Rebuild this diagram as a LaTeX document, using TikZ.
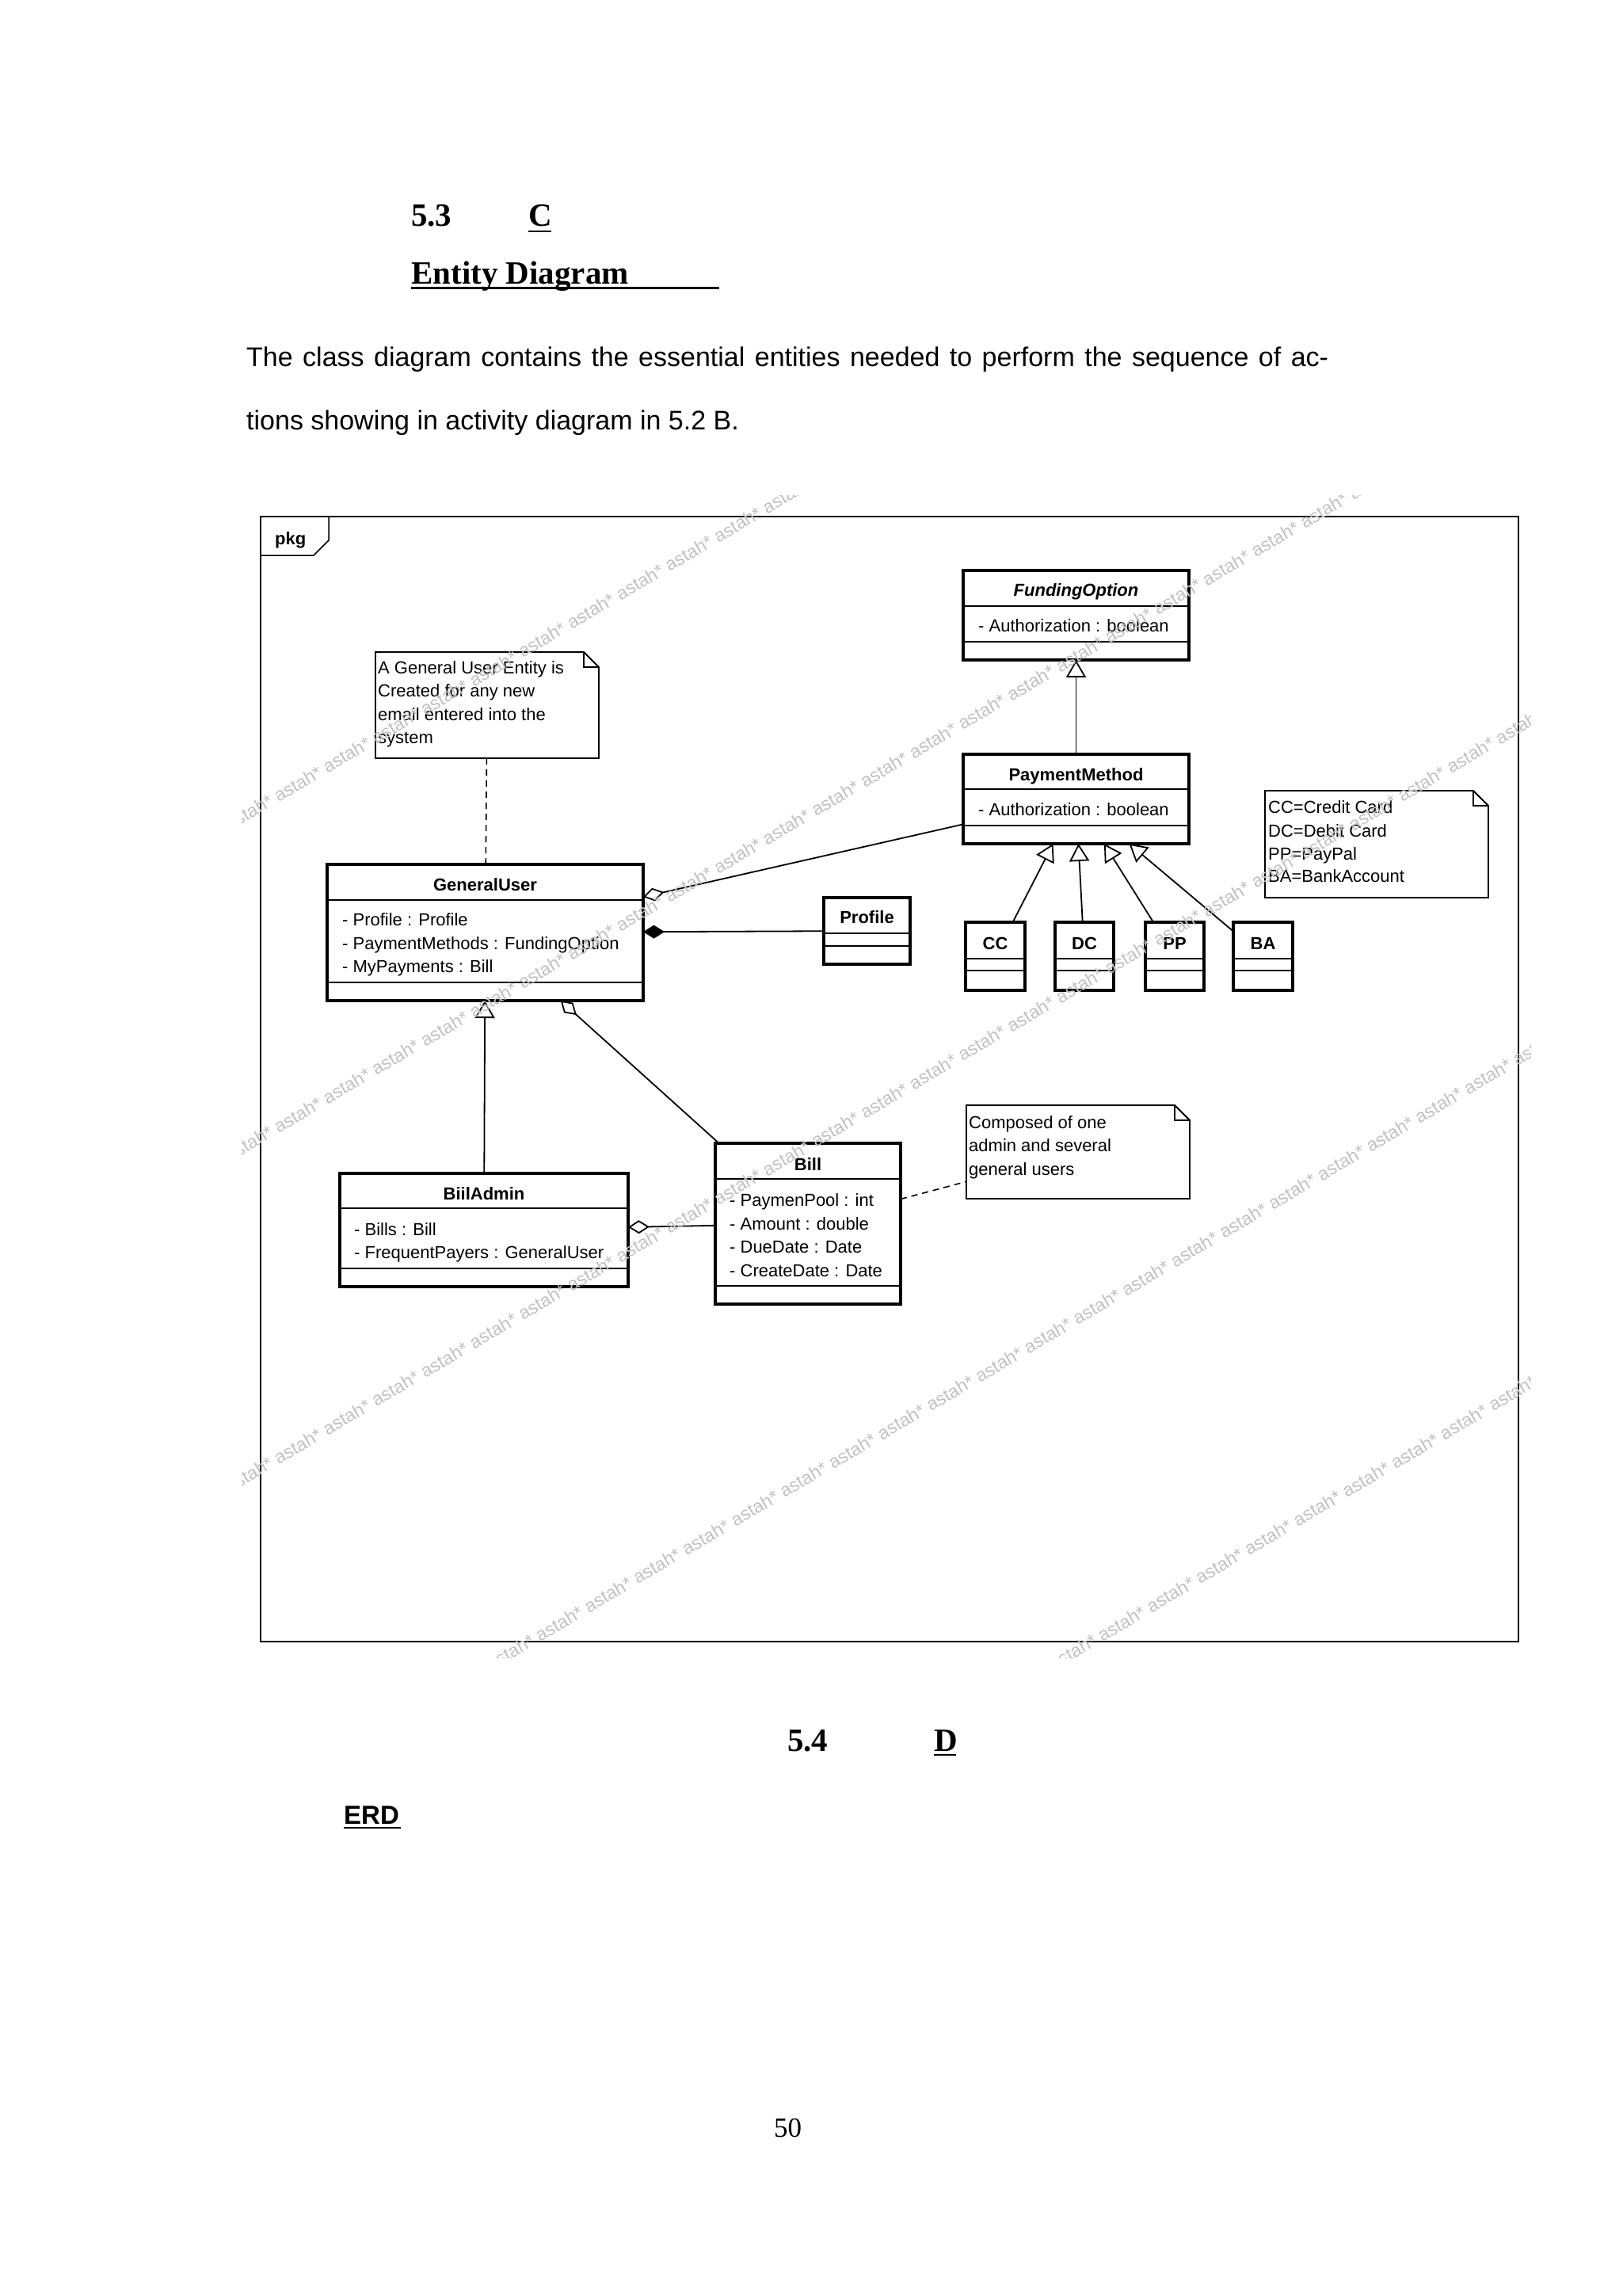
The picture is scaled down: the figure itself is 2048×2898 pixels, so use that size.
\documentclass[tikz,border=0pt]{standalone}
\usepackage{fontspec}
\setmainfont{Liberation Serif}
\setsansfont{Liberation Sans}
\usetikzlibrary{arrows.meta,calc}
\newcommand\wmrep[1]{\foreach \i in {1,...,#1}{astah* }}
\begin{document}
\begin{tikzpicture}[x=1pt,y=-1pt,
  cls/.style={draw, line width=3.5pt, inner sep=0pt, outer sep=0pt},
  notebox/.style={inner sep=0pt, outer sep=0pt},
  noteline/.style={line width=1.8pt, line join=miter},
  div/.style={line width=1.5pt},
  lbl/.style={inner sep=0pt, anchor=base west, font=\fontsize{22}{26}\selectfont\sffamily},
  ttl/.style={inner sep=0pt, anchor=base, font=\fontsize{22}{26}\selectfont\sffamily\bfseries},
  conn/.style={line width=1.8pt},
  gen/.style={conn, -{Triangle[open, length=22pt, width=25pt]}},
  agg/.style={conn, {Diamond[open, length=27pt, width=17pt]}-},
  comp/.style={conn, {Diamond[length=27pt, width=17pt]}-},
  dep/.style={line width=1.6pt, dash pattern=on 8pt off 6pt},
  head/.style={inner sep=0pt, anchor=base west, font=\fontsize{41}{48}\selectfont\rmfamily\bfseries},
  body/.style={inner sep=0pt, anchor=base west, font=\fontsize{34}{40}\selectfont\sffamily},
  wm/.style={inner sep=0pt, anchor=base west, text=black!24, font=\fontsize{23}{26}\selectfont\sffamily}
]
\useasboundingbox (0,0) rectangle (2048,2898);
\fill[white] (0,0) rectangle (2048,2898);

% ---------- page text ----------
\node[head] (h53) at (519,285) {5.3};
\node[head] (hC) at (667,285) {C};
\draw[line width=2.5pt] (667,292) -- (696,292);
\node[head] (hED) at (519,358) {Entity Diagram};
\draw[line width=3pt] (519,363) -- (908,363);
\node[body] (b1) at (311,462) {\makebox[1366pt][s]{The class diagram contains the essential entities needed to perform the sequence of ac-}};
\node[body] (b2) at (311,542) {tions showing in activity diagram in 5.2 B.};

\node[head] (h54) at (994,2210) {5.4};
\node[head] (hD) at (1179,2210) {D};
\draw[line width=2.5pt] (1179,2215) -- (1207,2215);
\node[inner sep=0pt, anchor=base west, font=\fontsize{33}{40}\selectfont\sffamily\bfseries] (erd) at (434,2302) {ERD};
\draw[line width=2.5pt] (434,2307) -- (506,2307);
\node[inner sep=0pt, anchor=base west, font=\fontsize{35}{40}\selectfont\rmfamily] (pno) at (977,2697) {50};

% ---------- frame ----------
\draw[line width=1.5pt] (329,652) rectangle (1917,2072);
\draw[line width=1.5pt] (329,701) -- (396,701) -- (415,682) -- (415,652);
\node[inner sep=0pt, anchor=base west, font=\fontsize{22}{26}\selectfont\sffamily\bfseries] (pkg) at (347,687) {pkg};

% ---------- classes ----------
\node[cls, minimum width=399pt, minimum height=172pt] (GU) at (612.5,1177) {};
\draw[div] (413,1136) -- (812,1136);
\draw[div] (413,1240) -- (812,1240);
\node[ttl] (GUt) at (612.5,1124) {GeneralUser};
\node[lbl] (GUa1) at (432,1168) {- Profile : Profile};
\node[lbl] (GUa2) at (432,1198) {- PaymentMethods : FundingOption};
\node[lbl] (GUa3) at (432,1227) {- MyPayments : Bill};

\node[cls, minimum width=109pt, minimum height=84pt] (PR) at (1094.5,1175) {};
\draw[div] (1040,1178) -- (1149,1178);
\draw[div] (1040,1194) -- (1149,1194);
\node[ttl] (PRt) at (1094.5,1165) {Profile};

\node[cls, minimum width=285pt, minimum height=113pt] (FO) at (1358.5,776.5) {};
\draw[div] (1216,765) -- (1501,765);
\draw[div] (1216,810) -- (1501,810);
\node[ttl, font=\fontsize{22}{26}\selectfont\sffamily\bfseries\itshape] (FOt) at (1358.5,752) {FundingOption};
\node[lbl] (FOa) at (1235,797) {- Authorization : boolean};

\node[cls, minimum width=285pt, minimum height=113pt] (PM) at (1358.5,1008.5) {};
\draw[div] (1216,996) -- (1501,996);
\draw[div] (1216,1042) -- (1501,1042);
\node[ttl] (PMt) at (1358.5,985) {PaymentMethod};
\node[lbl] (PMa) at (1235,1029) {- Authorization : boolean};

\foreach \n/\cx/\w in {CC/1256.5/75, DC/1369/74, PP/1483/74, BA/1594.5/75}{
  \node[cls, minimum width=\w pt, minimum height=86pt] (\n) at (\cx,1207) {};
  \draw[div] ($(\n.west)+(0,3)$) -- ($(\n.east)+(0,3)$);
  \draw[div] ($(\n.west)+(0,18)$) -- ($(\n.east)+(0,18)$);
  \node[ttl] (\n t) at (\cx,1198) {\n};
}

\node[cls, minimum width=364pt, minimum height=143pt] (BAd) at (611,1552.5) {};
\draw[div] (429,1525) -- (793,1525);
\draw[div] (429,1601) -- (793,1601);
\node[ttl] (BAdt) at (611,1514) {BiilAdmin};
\node[lbl] (BAda1) at (447,1559) {- Bills : Bill};
\node[lbl] (BAda2) at (447,1588) {- FrequentPayers : GeneralUser};

\node[cls, minimum width=234pt, minimum height=203pt] (BL) at (1020,1544.5) {};
\draw[div] (903,1488) -- (1137,1488);
\draw[div] (903,1623) -- (1137,1623);
\node[ttl] (BLt) at (1020,1477) {Bill};
\node[lbl] (BLa1) at (921,1522) {- PaymenPool : int};
\node[lbl] (BLa2) at (921,1552) {- Amount : double};
\node[lbl] (BLa3) at (921,1581) {- DueDate : Date};
\node[lbl] (BLa4) at (921,1611) {- CreateDate : Date};

% ---------- notes ----------
\node[notebox, minimum width=282pt, minimum height=134pt] (N1) at (615,890) {};
\node[notebox, minimum width=282pt, minimum height=135pt] (N2) at (1738,1065.5) {};
\node[notebox, minimum width=282pt, minimum height=118pt] (N3) at (1361,1454) {};
\foreach \n in {N1,N2,N3}{
  \draw[noteline] (\n.north west) -- ($(\n.north east)+(-19,0)$) -- ($(\n.north east)+(0,19)$) -- (\n.south east) -- (\n.south west) -- cycle;
  \draw[noteline] ($(\n.north east)+(-19,0)$) -- ($(\n.north east)+(-19,19)$) -- ($(\n.north east)+(0,19)$);
}
\node[lbl] (N1a) at (477,850) {A General User Entity is};
\node[lbl] (N1b) at (477,879) {Created for any new};
\node[lbl] (N1c) at (477,909) {email entered into the};
\node[lbl] (N1d) at (477,938) {system};
\node[lbl] (N2a) at (1601,1026) {CC=Credit Card};
\node[lbl] (N2b) at (1601,1056) {DC=Debit Card};
\node[lbl] (N2c) at (1601,1085) {PP=PayPal};
\node[lbl] (N2d) at (1601,1113) {BA=BankAccount};
\node[lbl] (N3a) at (1223,1424) {Composed of one};
\node[lbl] (N3b) at (1223,1453) {admin and several};
\node[lbl] (N3c) at (1223,1483) {general users};

% ---------- connectors ----------
\draw[dep] (N1) -- (GU);
\draw[dep] (BL) -- (N3);
\draw[agg] (GU) -- (PM);
\draw[comp] (GU) -- (PR);
\draw[agg] (GU) -- (BL);
\draw[agg] (BAd) -- (BL);
\draw[gen] (BAd) -- (GU);
\draw[gen] (PM) -- (FO);
\foreach \n in {CC,DC,PP,BA}{
  \draw[gen] (\n) -- (PM);
}

% ---------- watermark ----------
\begin{scope}
\clip (305,625) rectangle (1932,2092);
\foreach \k/\sx/\sy/\nw in {a/290/1049/13, b/290/1467/25, c/290/1885/28, d/620/2109/22, e/1330/2109/11}{
  \node[wm, rotate=30.5] (wm\k) at (\sx,\sy) {\wmrep{\nw}};
}
\end{scope}
\end{tikzpicture}
\end{document}
